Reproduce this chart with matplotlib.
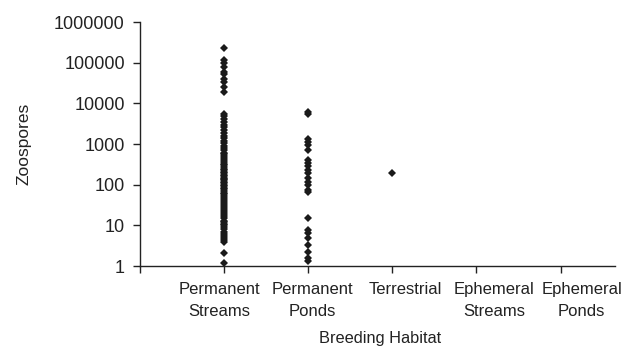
import numpy as np
import matplotlib
matplotlib.use("Agg")
import matplotlib.pyplot as plt

plt.rcParams['font.family'] = ['Liberation Sans', 'DejaVu Sans']

# habitat categories (x positions 1..5)
habitats = ['Permanent\nStreams', 'Permanent\nPonds', 'Terrestrial',
            'Ephemeral\nStreams', 'Ephemeral\nPonds']

# zoospore loads
perm_streams = [230000, 120000, 100000, 78000, 60000, 52000, 40000, 33000, 25000,
                19000, 5600, 5000, 4200, 3500, 3000, 2600, 2200, 1900, 1600, 1400,
                1200, 1050, 900, 800, 700, 620, 560, 500, 450, 400, 360, 330, 300,
                270, 250, 230, 210, 190, 175, 160, 150, 140, 130, 120, 110, 100,
                92, 85, 78, 70, 64, 58, 52, 47, 42, 38, 34, 30, 27, 24, 21, 19, 17,
                15, 13, 12, 11, 10, 9, 8, 7, 6.2, 5.5, 5, 4.5, 4, 2.1, 1.2]
perm_ponds = [6000, 5400, 1320, 1100, 940, 700, 400, 340, 290, 230, 190, 150,
              116, 98, 74, 66, 15, 7.6, 6.5, 4.9, 3.3, 2.2, 1.6, 1.3]
terrestrial = [190]
eph_streams = []
eph_ponds = []

series = [perm_streams, perm_ponds, terrestrial, eph_streams, eph_ponds]

fig = plt.figure(figsize=(6.31, 3.46), dpi=100)
ax = fig.add_axes([0.222, 0.231, 0.753, 0.705])

for i, vals in enumerate(series):
    if len(vals) == 0:
        continue
    ax.plot(np.full(len(vals), i + 1), vals, linestyle='none', marker='D',
            markersize=4.5, color='#1a1a1a', markeredgewidth=0)

ax.set_yscale('log')
ax.set_ylim(1, 1000000)
ax.set_yticks([1, 10, 100, 1000, 10000, 100000, 1000000])
ax.set_yticklabels(['1', '10', '100', '1000', '10000', '100000', '1000000'])
ax.minorticks_off()
ax.set_xlim(0, 5.65)
ax.set_xticks([0, 1, 2, 3, 4, 5])
ax.set_xticklabels([])

for s in ['top', 'right']:
    ax.spines[s].set_visible(False)
for s in ['left', 'bottom']:
    ax.spines[s].set_linewidth(1.0)
    ax.spines[s].set_color('#222222')
ax.tick_params(axis='both', direction='out', length=5, width=1.0,
               color='#222222', labelsize=13, labelcolor='#222222')
ax.tick_params(axis='y', pad=6)

# category labels sit a bit right of their tick in the original
label_x = [0.94, 2.05, 3.15, 4.21, 5.25]
for lx, name in zip(label_x, habitats):
    ax.text(lx, -0.065, name, transform=ax.get_xaxis_transform(), ha='center',
            va='top', fontsize=12, color='#222222', linespacing=1.55)

ax.set_ylabel('Zoospores', fontsize=12.5, color='#222222', labelpad=16)
fig.text(0.602, 0.022, 'Breeding Habitat', ha='center', va='center',
         fontsize=11.8, color='#222222')

fig.savefig('out.png', dpi=100)
